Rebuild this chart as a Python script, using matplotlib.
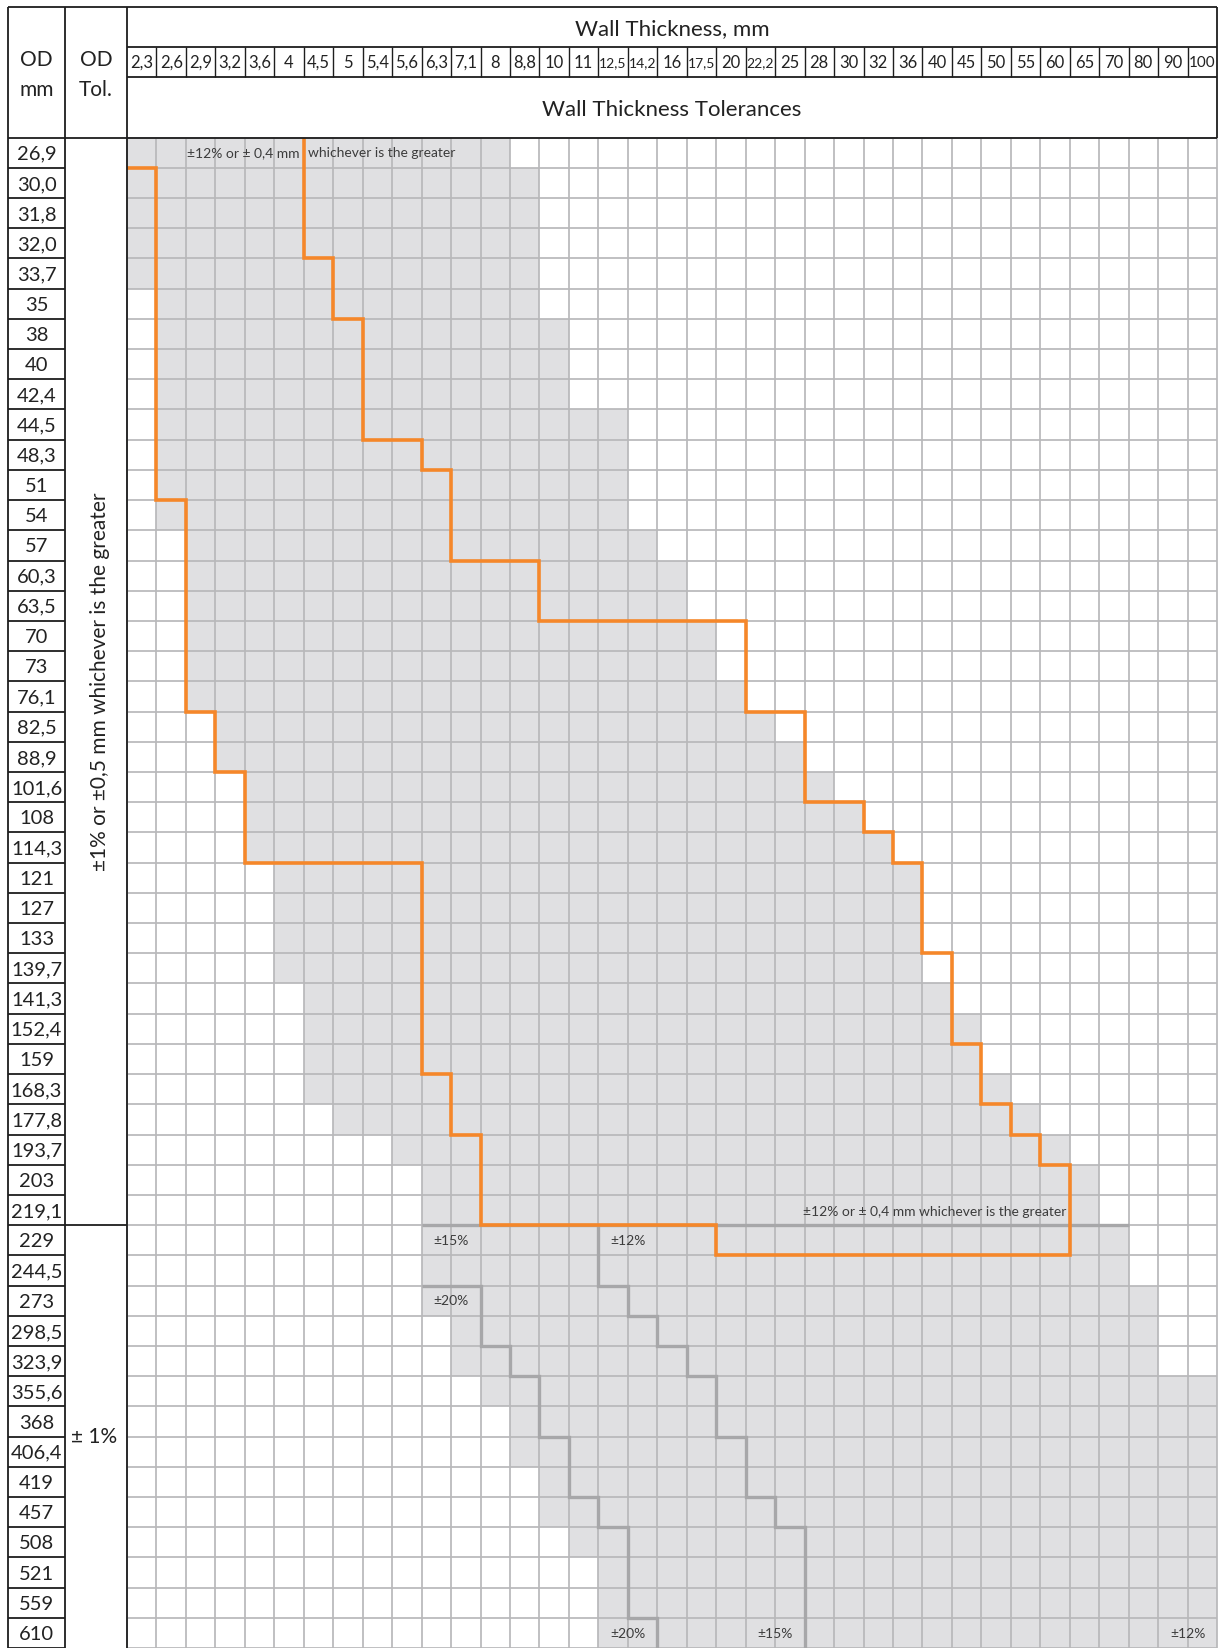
import numpy as np
import matplotlib
matplotlib.use("Agg")
import matplotlib.pyplot as plt

# ---------------- data ----------------
WT = ["2,3", "2,6", "2,9", "3,2", "3,6", "4", "4,5", "5", "5,4", "5,6", "6,3", "7,1",
      "8", "8,8", "10", "11", "12,5", "14,2", "16", "17,5", "20", "22,2", "25", "28",
      "30", "32", "36", "40", "45", "50", "55", "60", "65", "70", "80", "90", "100"]

OD = ["26,9", "30,0", "31,8", "32,0", "33,7", "35", "38", "40", "42,4", "44,5", "48,3",
      "51", "54", "57", "60,3", "63,5", "70", "73", "76,1", "82,5", "88,9", "101,6",
      "108", "114,3", "121", "127", "133", "139,7", "141,3", "152,4", "159", "168,3",
      "177,8", "193,7", "203", "219,1", "229", "244,5", "273", "298,5", "323,9",
      "355,6", "368", "406,4", "419", "457", "508", "521", "559", "610"]

# first / last available wall-thickness column (index into WT) for every OD row
shade_start = [0]*5 + [1]*8 + [2]*6 + [3]*2 + [4]*3 + [5]*4 + [6]*4 + [7] + [9] + \
              [10]*5 + [11]*2 + [12] + [13]*2 + [14]*2 + [15] + [16]*3
shade_end = [12] + [13]*5 + [14]*3 + [16]*4 + [17] + [18]*2 + [19]*2 + [20, 21, 22, 23, 24, 25] + \
            [26]*4 + [27] + [28]*2 + [29, 30, 31] + [32]*2 + [33]*2 + [34]*3 + [36]*9

# orange standard-range boundary (column edge per row, rows 0..36)
orange_left = [0] + [1]*11 + [2]*7 + [3]*2 + [4]*3 + [10]*7 + [11]*2 + [12]*3 + [20]
orange_right = [6]*4 + [7]*2 + [8]*4 + [10] + [11]*3 + [14]*2 + [21]*3 + [23]*3 + [25, 26] + \
               [27]*3 + [28]*3 + [29]*2 + [30, 31] + [32]*3

# tolerance zone boundaries in the lower part
tol_row = 36                                   # first row of the ±1 % OD tolerance block
a_rows = list(range(38, 50))                   # ±20 % | ±15 %
a_cols = [12, 12, 13, 14, 14, 15, 15, 16, 17, 17, 17, 18]
b_rows = list(range(36, 50))                   # ±15 % | ±12 %
b_cols = [16, 16, 17, 18, 19, 20, 20, 21, 21, 22, 23, 23, 23, 23]

zone_labels = [("±15%", 11, 36), ("±12%", 17, 36), ("±20%", 11, 38),
               ("±20%", 17, 49), ("±15%", 22, 49), ("±12%", 36, 49)]

TOP_NOTE_A = "±12% or ± 0,4 mm"
TOP_NOTE_B = "whichever is the greater"
MID_NOTE = "±12% or ± 0,4 mm whichever is the greater"
OD_TOL_1 = "±1% or ±0,5 mm whichever is the greater"
OD_TOL_2 = "± 1%"

# ---------------- style ----------------
W, H = 1221, 1648
COL_W, ROW_H = 29.46, 30.21
GRID_LEFT, GRID_TOP = 127.0, 137.6
plt.rcParams["font.family"] = ["Lato", "DejaVu Sans"]

GRAY_FILL = "#e0e0e2"
GRID_C = "#b8b8ba"
ORANGE = "#f5872a"
TOL_C = "#a7a7a9"
BLACK = "#1e1e1e"
TXT = "#222222"
NOTE = "#3c3c3c"

ncol, nrow = len(WT), len(OD)
x_od = (8 - GRID_LEFT) / COL_W
x_tol = (65 - GRID_LEFT) / COL_W
y_top = (7 - GRID_TOP) / ROW_H
y_h1, y_h2 = -3.0, -2.0

fig = plt.figure(figsize=(W / 100, H / 100), dpi=100)
ax = fig.add_axes([0, 0, 1, 1])
ax.set_xlim(-GRID_LEFT / COL_W, (W - GRID_LEFT) / COL_W)
ax.set_ylim((H - GRID_TOP) / ROW_H, -GRID_TOP / ROW_H)
ax.axis("off")

# shaded cells
starts = np.array(shade_start)
ends = np.array(shade_end)
ax.barh(np.arange(nrow) + 0.5, ends - starts + 1, left=starts, height=1.0,
        color=GRAY_FILL, linewidth=0, zorder=1)

# light grid
ax.hlines(np.arange(nrow + 1), 0, ncol, color=GRID_C, lw=1.25, zorder=2)
ax.vlines(np.arange(ncol + 1), 0, nrow, color=GRID_C, lw=1.25, zorder=2)

# tolerance boundaries (gray)
ax.hlines(tol_row, shade_start[tol_row], shade_end[tol_row] + 1, color=TOL_C, lw=2.4, zorder=3)
ax_pts = [(shade_start[a_rows[0]], a_rows[0])]
for r, c in zip(a_rows, a_cols):
    ax_pts += [(c, r), (c, r + 1)]
bx_pts = []
for r, c in zip(b_rows, b_cols):
    bx_pts += [(c, r), (c, r + 1)]
for pts in (ax_pts, bx_pts):
    xs, ys = zip(*pts)
    ax.plot(xs, ys, color=TOL_C, lw=2.4, solid_joinstyle="miter", solid_capstyle="butt", zorder=3)

# orange boundary
opts = [(orange_left[0], 1)]
for r in range(1, len(orange_left)):
    opts += [(orange_left[r], r), (orange_left[r], r + 1)]
last = len(orange_right) - 1
opts += [(orange_right[last], last + 1)]
for r in range(last, -1, -1):
    opts += [(orange_right[r], r + 1), (orange_right[r], r)]
xs, ys = zip(*opts)
ax.plot(xs, ys, color=ORANGE, lw=2.6, solid_joinstyle="miter", solid_capstyle="butt", zorder=4)

# notes inside grid
ax.text(orange_right[0] - 0.15, 0.5, TOP_NOTE_A, ha="right", va="center", fontsize=10, color=NOTE, zorder=5)
ax.text(orange_right[0] + 0.15, 0.5, TOP_NOTE_B, ha="left", va="center", fontsize=10, color=NOTE, zorder=5)
ax.text(orange_right[35] - 0.12, 35.55, MID_NOTE, ha="right", va="center", fontsize=10, color=NOTE, zorder=5)
for t, c, r in zone_labels:
    ax.text(c, r + 0.52, t, ha="center", va="center", fontsize=10, color=NOTE, zorder=5)

# frame lines
lw_b = 1.3
ax.hlines(y_top, x_od, ncol, color=BLACK, lw=lw_b, zorder=6)
ax.hlines([y_h1, y_h2], 0, ncol, color=BLACK, lw=lw_b, zorder=6)
ax.hlines(0, x_od, ncol, color=BLACK, lw=lw_b, zorder=6)
ax.hlines(np.arange(1, nrow + 1), x_od, x_tol, color=BLACK, lw=lw_b, zorder=6)
ax.hlines(tol_row, x_tol, 0, color=BLACK, lw=lw_b, zorder=6)
ax.vlines([x_od, x_tol, 0], y_top, nrow, color=BLACK, lw=lw_b, zorder=6)
ax.vlines(ncol, y_top, 0, color=BLACK, lw=lw_b, zorder=6)
ax.vlines(np.arange(1, ncol), y_h1, y_h2, color=BLACK, lw=1.0, zorder=6)

# header texts
ax.text(ncol / 2, (y_top + y_h1) / 2 + 0.08, "Wall Thickness, mm", ha="center", va="center",
        fontsize=16, color=TXT)
ax.text(ncol / 2, y_h2 / 2 + 0.08, "Wall Thickness Tolerances", ha="center", va="center",
        fontsize=16, color=TXT)
for i, t in enumerate(WT):
    if len(t) >= 4:
        fs = 10
    elif len(t) == 3 and "," not in t:
        fs = 11
    else:
        fs = 12
    ax.text(i + 0.5, (y_h1 + y_h2) / 2 + 0.03, t, ha="center", va="center", fontsize=fs, color=TXT)
xc_od = (x_od + x_tol) / 2
xc_tol = x_tol / 2
for xc, (t1, t2) in ((xc_od, ("OD", "mm")), (xc_tol, ("OD", "Tol."))):
    ax.text(xc, -2.57, t1, ha="center", va="center", fontsize=15, color=TXT)
    ax.text(xc, -1.56, t2, ha="center", va="center", fontsize=15, color=TXT)

for r, t in enumerate(OD):
    ax.text(xc_od, r + 0.55, t, ha="center", va="center", fontsize=14.5, color=TXT)

ax.text(xc_tol + 0.12, tol_row / 2, OD_TOL_1, rotation=90, ha="center", va="center",
        fontsize=15, color=TXT)
ax.text(xc_tol - 0.05, (tol_row + nrow) / 2, OD_TOL_2, ha="center", va="center",
        fontsize=15, color=TXT)

fig.savefig("out.png", dpi=100)
